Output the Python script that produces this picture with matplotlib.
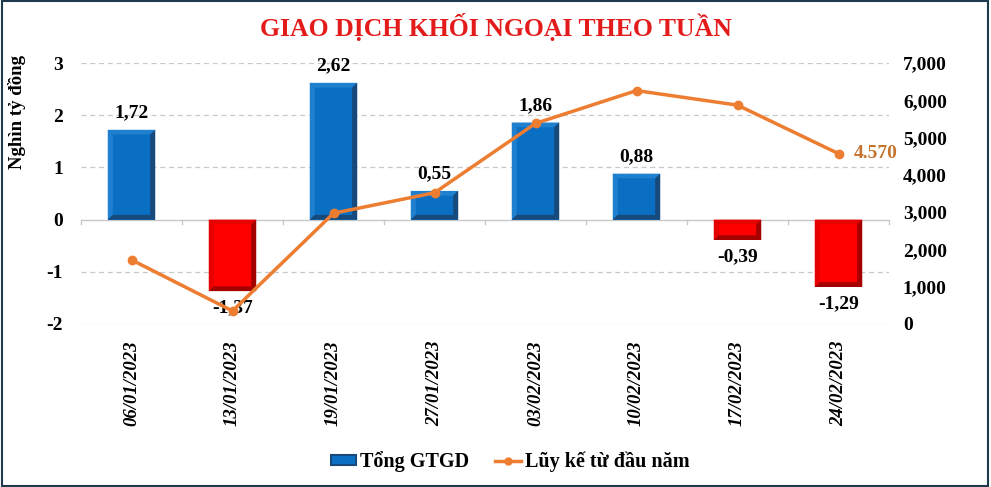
import matplotlib
matplotlib.use("Agg")
import matplotlib.pyplot as plt
from matplotlib.patches import Polygon, Rectangle
from matplotlib.lines import Line2D
from matplotlib.ticker import FuncFormatter, MultipleLocator

plt.rcParams['font.family'] = ['Liberation Serif', 'DejaVu Serif']
plt.rcParams['axes.unicode_minus'] = False

categories = ["06/01/2023", "13/01/2023", "19/01/2023", "27/01/2023",
              "03/02/2023", "10/02/2023", "17/02/2023", "24/02/2023"]
weekly = [1.72, -1.37, 2.62, 0.55, 1.86, 0.88, -0.39, -1.29]
cumulative = [1720, 350, 2970, 3520, 5380, 6260, 5870, 4570]
weekly_labels = ["1,72", "-1,37", "2,62", "0,55", "1,86", "0,88", "-0,39", "-1,29"]
last_label = "4.570"

title = "GIAO DỊCH KHỐI NGOẠI THEO TUẦN"
ylabel = "Nghìn tỷ đồng"
legend_bar = "Tổng GTGD"
legend_line = "Lũy kế từ đầu năm"

W, H = 991, 487
fig = plt.figure(figsize=(W / 100, H / 100), dpi=100)
ax = fig.add_axes([81 / W, (H - 324) / H, (889 - 81) / W, (324 - 63) / H])
ax2 = ax.twinx()

n = len(categories)
xs = list(range(n))
bw = 0.47

ax.set_xlim(-0.5, n - 0.5)
ax.set_ylim(-2, 3)
ax2.set_ylim(0, 7000)

# grid
for yv in [-2, -1, 1, 2, 3]:
    ax.axhline(yv, color="#C8C8C8", lw=0.9, ls=(0, (4, 3)), zorder=0)
ax.axhline(0, color="#C8C8C8", lw=1.0, zorder=1)
for b in range(n + 1):
    xb = b - 0.5
    ax.plot([xb, xb], [0, -0.09], color="#C8C8C8", lw=1.0, zorder=1, clip_on=False)

blue_face, blue_light, blue_dark = "#0A6FC2", "#1F80D0", "#17497A"
red_face, red_light, red_dark = "#FF0000", "#E60000", "#A30000"

dx, dy = 0.05, 0.09
for x, v in zip(xs, weekly):
    if v >= 0:
        face, light, dark = blue_face, blue_light, blue_dark
    else:
        face, light, dark = red_face, red_light, red_dark
    x0, x1 = x - bw / 2, x + bw / 2
    top, bot = max(v, 0), min(v, 0)
    ax.add_patch(Rectangle((x0, bot), bw, top - bot, facecolor=face, edgecolor="none", zorder=2))
    ix0, ix1, itop, ibot = x0 + dx, x1 - dx, top - dy, bot + dy
    ax.add_patch(Polygon([(x0, top), (x1, top), (ix1, itop), (ix0, itop)], closed=True,
                         facecolor=light, edgecolor="none", zorder=3))
    ax.add_patch(Polygon([(x0, top), (ix0, itop), (ix0, ibot), (x0, bot)], closed=True,
                         facecolor=light, edgecolor="none", zorder=3))
    ax.add_patch(Polygon([(x1, top), (x1, bot), (ix1, ibot), (ix1, itop)], closed=True,
                         facecolor=dark, edgecolor="none", zorder=3))
    ax.add_patch(Polygon([(x0, bot), (x1, bot), (ix1, ibot), (ix0, ibot)], closed=True,
                         facecolor=dark, edgecolor="none", zorder=3))
    if v >= 0:
        ax.annotate(weekly_labels[x], (x, v), xytext=(0, 6), textcoords="offset points",
                    ha="center", va="bottom", fontsize=14, fontweight="bold", zorder=6)
    else:
        ax.annotate(weekly_labels[x], (x, v), xytext=(0, -6), textcoords="offset points",
                    ha="center", va="top", fontsize=14, fontweight="bold", zorder=6)

line_color = "#ED7D31"
ax2.plot(xs, cumulative, color=line_color, lw=2.5, marker="o", ms=6, zorder=5)
ax2.annotate(last_label, (xs[-1], cumulative[-1]), xytext=(11, 0), textcoords="offset points",
             ha="left", va="center", fontsize=14, fontweight="bold", color="#C5742F")

for a in (ax, ax2):
    for s in a.spines.values():
        s.set_visible(False)
ax.yaxis.set_major_locator(MultipleLocator(1))
ax.tick_params(axis="y", length=0, pad=13, labelsize=14)
for lab in ax.get_yticklabels():
    lab.set_fontweight("bold")
ax2.yaxis.set_major_locator(MultipleLocator(1000))
ax2.yaxis.set_major_formatter(FuncFormatter(lambda v, p: f"{int(v):,}"))
ax2.tick_params(axis="y", length=0, pad=10, labelsize=14)
for lab in ax2.get_yticklabels():
    lab.set_fontweight("bold")

ax.set_xticks(xs)
ax.set_xticklabels(categories, rotation=90, fontsize=13.5, fontweight="bold", style="italic",
                   ha="center", va="top")
ax.tick_params(axis="x", length=0, pad=12)

fig.text(17 / W, (H - 112) / H, ylabel, rotation=90, ha="center", va="center",
         fontsize=13.5, fontweight="bold")

fig.text(0.5, (H - 27) / H, title, ha="center", va="center", fontsize=18.5,
         fontweight="bold", color="#E31B1B")

handles = [Rectangle((0, 0), 1, 1, facecolor=blue_face, edgecolor=blue_dark, lw=1.5),
           Line2D([0], [0], color=line_color, lw=2.5, marker="o", ms=5)]
fig.legend(handles, [legend_bar, legend_line], loc="center", bbox_to_anchor=(510 / W, (H - 462) / H),
           ncol=2, frameon=False, prop={"size": 14.5, "weight": "bold"},
           handlelength=1.25, handleheight=0.4, columnspacing=1.3, handletextpad=0.2)

fig.add_artist(Rectangle((0.002, 0.003), 0.995, 0.994, transform=fig.transFigure,
                         fill=False, edgecolor="#1F3A4D", lw=1.5))

fig.savefig("out.png", dpi=100)
